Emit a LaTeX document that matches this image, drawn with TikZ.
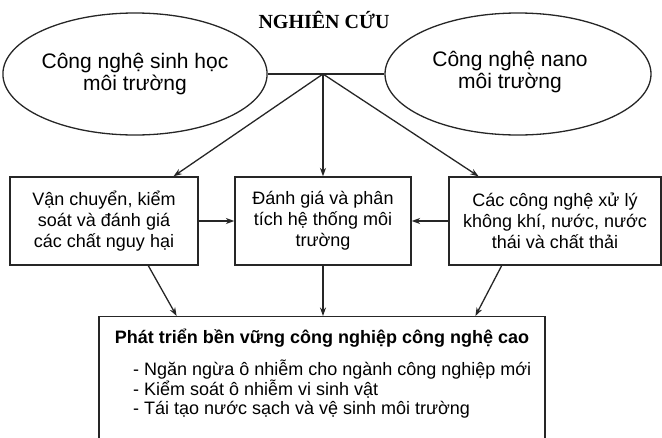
\documentclass[tikz,border=0pt]{standalone}
\usepackage{fontspec}
\setmainfont{Liberation Sans}
\newfontfamily\serifbold{Liberation Serif}
\usetikzlibrary{shapes.geometric,arrows.meta,calc}
\tikzset{
  ln/.style={line width=1.3pt, draw=black!85},
  arr/.style={ln, -{Stealth[length=8.5pt,width=6pt]}},
  ell/.style={ellipse, ln, minimum height=122pt, inner sep=0pt, align=center, font=\fontsize{21}{22}\selectfont},
  bx/.style={rectangle, ln, minimum height=88pt, inner sep=0pt, align=center, font=\fontsize{18}{21}\selectfont},
  txt/.style={align=center, inner sep=0pt, font=\fontsize{21}{22}\selectfont},
}
\begin{document}
\begin{tikzpicture}[x=1pt,y=-1pt]
\useasboundingbox (0,0) rectangle (662,437);
\node[font=\serifbold\bfseries\fontsize{20}{22}\selectfont] (title) at (324,20) {NGHIÊN CỨU};
\node[ell, minimum width=254pt] (L) at (135,74) {Công nghệ sinh học\\môi trường};
\node[ell, minimum width=266pt] (R) at (518,74) {};
\node[txt] (Rt) at (510,72) {Công nghệ nano\\môi trường};
\coordinate (j) at (323,74);
\draw[ln] (L.east) -- (R.west);
\node[bx, minimum width=188pt] (B1) at (104,221) {Vận chuyển, kiểm\\soát và đánh giá\\các chất nguy hại};
\node[bx, minimum width=176pt] (B2) at (323,221) {Đánh giá và phân\\tích hệ thống môi\\trường};
\node[bx, minimum width=212pt] (B3) at (555,221) {Các công nghệ xử lý\\không khí, nước, nước\\thái và chất thải};
\node[rectangle, ln, minimum width=446pt, minimum height=140pt, anchor=north] (D) at (322,316) {};
\node[font=\bfseries\fontsize{18}{21}\selectfont] (Dt) at (322,338) {Phát triển bền vững công nghiệp công nghệ cao};
\node[anchor=north west, align=left, inner sep=0pt, font=\fontsize{18}{19.5}\selectfont] (Dl) at (133,360) {- Ngăn ngừa ô nhiễm cho ngành công nghiệp mới\\- Kiểm soát ô nhiễm vi sinh vật\\- Tái tạo nước sạch và vệ sinh môi trường};
\draw[arr] (j) -- ($(B1.north west)!0.867!(B1.north east)$);
\draw[arr] (j) -- (B2.north);
\draw[arr] (j) -- ($(B3.north west)!0.142!(B3.north east)$);
\draw[arr] (B1.east) -- (B2.west);
\draw[arr] (B3.west) -- (B2.east);
\draw[arr] ($(B1.south west)!0.734!(B1.south east)$) -- ($(D.north west)!0.175!(D.north east)$);
\draw[arr] (B2.south) -- (D.north -| B2.south);
\draw[arr] ($(B3.south west)!0.25!(B3.south east)$) -- ($(D.north west)!0.843!(D.north east)$);
\end{tikzpicture}
\end{document}
